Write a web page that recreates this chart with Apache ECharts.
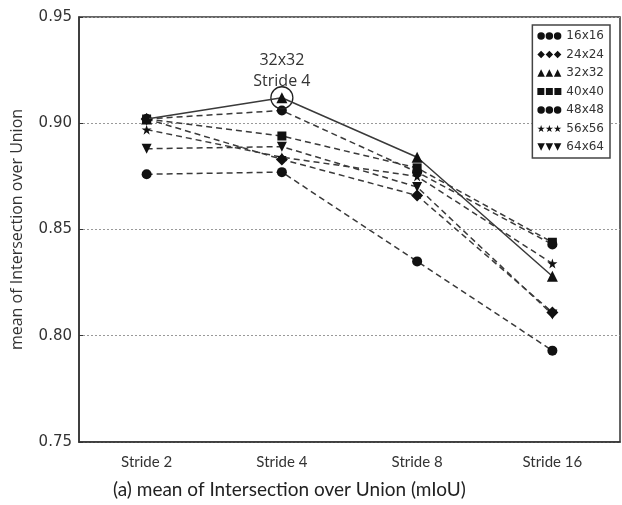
<!DOCTYPE html>
<html>
<head>
<meta charset="utf-8">
<script src="https://cdn.jsdelivr.net/npm/echarts@6/dist/echarts.min.js"></script>
<style>html,body{margin:0;padding:0;background:#fff}#c{width:622px;height:505px}</style>
</head>
<body>
<div id="c"></div>
<script>
// ---- data ----
var categories = ['Stride 2', 'Stride 4', 'Stride 8', 'Stride 16'];
var seriesNames = ['16x16', '24x24', '32x32', '40x40', '48x48', '56x56', '64x64'];
var v16 = [0.902, 0.906, 0.877, 0.843];
var v24 = [0.902, 0.883, 0.866, 0.811];
var v32 = [0.902, 0.912, 0.884, 0.828];
var v40 = [0.902, 0.894, 0.879, 0.844];
var v48 = [0.876, 0.877, 0.835, 0.793];
var v56 = [0.897, 0.884, 0.875, 0.834];
var v64 = [0.888, 0.889, 0.870, 0.810];
var yTicks = [0.75, 0.80, 0.85, 0.90, 0.95];
var annotationText = ['32x32', 'Stride 4'];
var caption = '(a) mean of Intersection over Union (mIoU)';
var yTitle = 'mean of Intersection over Union';

// ---- shapes ----
function circ(o){return 'M'+o+',5 a5,5 0 1,0 10,0 a5,5 0 1,0 -10,0 Z ';}
function diam(o){return 'M'+(o+5)+',0 L'+(o+10)+',5 L'+(o+5)+',10 L'+o+',5 Z ';}
function tri(o){return 'M'+(o+5)+',0 L'+(o+10)+',10 L'+o+',10 Z ';}
function sq(o){return 'M'+(o+0.5)+',0.5 L'+(o+9.5)+',0.5 L'+(o+9.5)+',9.5 L'+(o+0.5)+',9.5 Z ';}
function dtri(o){return 'M'+o+',0 L'+(o+10)+',0 L'+(o+5)+',10 Z ';}
function star(o){
  var p=[[5,0],[6.2,3.6],[10,3.6],[6.9,5.9],[8.1,9.5],[5,7.3],[1.9,9.5],[3.1,5.9],[0,3.6],[3.8,3.6]];
  return 'M'+p.map(function(q){return (q[0]+o)+','+q[1];}).join(' L')+' Z ';
}
function triple(f){return 'path://'+f(0)+f(11)+f(22);}
var shapeFns = [circ, diam, tri, sq, circ, star, dtri];
var symbols = ['circle', 'diamond', 'triangle', 'rect', 'circle', 'path://'+star(0), 'path://'+dtri(0)];
var sizes = [10, 12, 11, 9, 10, 10, 10];
var allData = [v16, v24, v32, v40, v48, v56, v64];

var series = seriesNames.map(function(n, i){
  var s = {
    name: n, type: 'line', data: allData[i],
    symbol: symbols[i], symbolSize: sizes[i],
    itemStyle: {color: '#111'},
    lineStyle: {color: '#3a3a3a', width: 1.5, type: i === 2 ? 'solid' : [6, 4]},
    z: i === 2 ? 5 : 3
  };
  if (i === 2) {
    s.markPoint = {
      symbol: 'circle', symbolSize: 22,
      itemStyle: {color: 'rgba(0,0,0,0)', borderColor: '#222', borderWidth: 1.3},
      label: {show: true, position: 'top', distance: 0, offset: [0, 6],
        formatter: annotationText.join('\n'), color: '#333',
        fontFamily: 'Open Sans', fontSize: 16, lineHeight: 21},
      data: [{type: 'max'}]
    };
  }
  return s;
});

var chart = echarts.init(document.getElementById('c'), null, {renderer: 'canvas'});
chart.setOption({
  animation: false,
  backgroundColor: '#fff',
  grid: {left: 79, right: 2, top: 17, bottom: 63, show: true, borderColor: '#333', borderWidth: 1.5, backgroundColor: 'transparent'},
  title: {text: caption, left: 108, top: 475,
    textStyle: {fontFamily: 'Lato', fontWeight: 'normal', fontSize: 19, color: '#222'}},
  legend: {
    orient: 'vertical', right: 12, top: 25,
    data: seriesNames.map(function(n, i){return {name: n, icon: triple(shapeFns[i])};}),
    itemWidth: 24, itemHeight: 8, itemGap: 6.5,
    padding: [5, 6, 5, 5],
    borderColor: '#444', borderWidth: 1.5, backgroundColor: '#fff',
    textStyle: {fontFamily: 'DejaVu Sans', fontSize: 12, color: '#333'}
  },
  xAxis: [{
    type: 'category', data: categories, boundaryGap: true,
    axisLine: {lineStyle: {color: '#333', width: 1.5}},
    axisTick: {inside: true, length: 4, alignWithLabel: true, lineStyle: {color: '#333'}},
    axisLabel: {fontFamily: 'Lato', fontSize: 15, color: '#333', margin: 13}
  }, {
    type: 'category', data: categories, position: 'top', boundaryGap: true,
    axisLine: {show: false},
    axisTick: {inside: true, length: 4, alignWithLabel: true, lineStyle: {color: '#333'}},
    axisLabel: {show: false}
  }],
  yAxis: {
    type: 'value', min: yTicks[0], max: yTicks[yTicks.length - 1], interval: 0.05,
    name: yTitle, nameLocation: 'middle', nameGap: 54,
    nameTextStyle: {fontFamily: 'Open Sans', fontSize: 16, color: '#333'},
    axisLine: {show: true, lineStyle: {color: '#333', width: 1.5}},
    axisTick: {show: true, inside: true, length: 4, lineStyle: {color: '#333'}},
    axisLabel: {fontFamily: 'DejaVu Sans', fontSize: 15, color: '#333', margin: 7,
      formatter: function(v){return v.toFixed(2);}},
    splitLine: {show: true, lineStyle: {color: '#999', type: [2, 2], width: 1}}
  },
  series: series
});
</script>
</body>
</html>
